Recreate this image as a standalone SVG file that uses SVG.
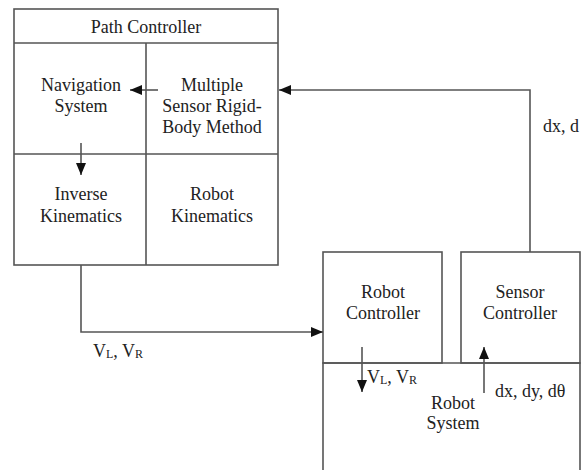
<svg xmlns="http://www.w3.org/2000/svg" width="586" height="470" viewBox="0 0 586 470">
  <style>
    .box { fill: none; stroke: #555; stroke-width: 1.6; }
    .wire { fill: none; stroke: #555; stroke-width: 1.6; }
    text { font-family: "Liberation Serif", Tinos, "DejaVu Serif", serif; font-size: 18px; fill: #222; }
    .c { text-anchor: middle; }
    .sub { font-size: 12px; }
  </style>
  <defs>
    <marker id="arrow" viewBox="0 0 12 10" refX="12" refY="5" markerWidth="12" markerHeight="10" markerUnits="userSpaceOnUse" orient="auto">
      <path d="M0,0 L12,5 L0,10 Z" fill="#111"/>
    </marker>
  </defs>
  <rect width="586" height="470" fill="#fff"/>

  <!-- Path controller block with its four sub-units -->
  <g id="path-controller">
    <rect class="box" x="14" y="9" width="264" height="256"/>
    <line class="box" x1="14" y1="43" x2="278" y2="43"/>
    <line class="box" x1="146" y1="43" x2="146" y2="265"/>
    <line class="box" x1="14" y1="154" x2="278" y2="154"/>
    <text class="c" x="146" y="33" font-family="Liberation Serif, serif">Path Controller</text>
  </g>
  <g id="navigation-system">
    <text class="c" x="81" y="91">Navigation</text>
    <text class="c" x="81" y="112">System</text>
  </g>
  <g id="multiple-sensor">
    <text class="c" x="212" y="91">Multiple</text>
    <text class="c" x="212" y="112">Sensor Rigid-</text>
    <text class="c" x="212" y="133">Body Method</text>
  </g>
  <g id="inverse-kinematics">
    <text class="c" x="81" y="200">Inverse</text>
    <text class="c" x="81" y="222">Kinematics</text>
  </g>
  <g id="robot-kinematics">
    <text class="c" x="212" y="200">Robot</text>
    <text class="c" x="212" y="222">Kinematics</text>
  </g>

  <!-- Robot side blocks -->
  <g id="robot-controller">
    <rect class="box" x="323" y="252" width="119" height="111"/>
    <text class="c" x="383" y="298">Robot</text>
    <text class="c" x="383" y="319">Controller</text>
  </g>
  <g id="sensor-controller">
    <rect class="box" x="461" y="252" width="119" height="111"/>
    <text class="c" x="520" y="298">Sensor</text>
    <text class="c" x="520" y="319">Controller</text>
  </g>
  <g id="robot-system">
    <path class="box" d="M323,480 L323,363 L580,363 L580,480"/>
    <text class="c" x="453" y="409">Robot</text>
    <text class="c" x="453" y="429">System</text>
  </g>

  <!-- Connectors -->
  <g id="connectors">
    <line class="wire" x1="158" y1="90" x2="130" y2="90" marker-end="url(#arrow)"/>
    <line class="wire" x1="81" y1="143" x2="81" y2="175" marker-end="url(#arrow)"/>
    <path class="wire" d="M530,252 L530,90 L279,90" marker-end="url(#arrow)"/>
    <path class="wire" d="M81,265 L81,332 L323,332" marker-end="url(#arrow)"/>
    <line class="wire" x1="362" y1="347" x2="362" y2="392" marker-end="url(#arrow)"/>
    <line class="wire" x1="484" y1="393" x2="484" y2="347" marker-end="url(#arrow)"/>
  </g>

  <!-- Signal labels -->
  <g id="labels">
    <text x="93" y="357">V<tspan class="sub" dy="1">L</tspan><tspan dy="-1">, V</tspan><tspan class="sub" dy="1">R</tspan></text>
    <text x="367" y="383">V<tspan class="sub" dy="1">L</tspan><tspan dy="-1">, V</tspan><tspan class="sub" dy="1">R</tspan></text>
    <text x="495" y="397">dx, dy, dθ</text>
    <text x="543" y="132">dx, d</text>
  </g>
</svg>
